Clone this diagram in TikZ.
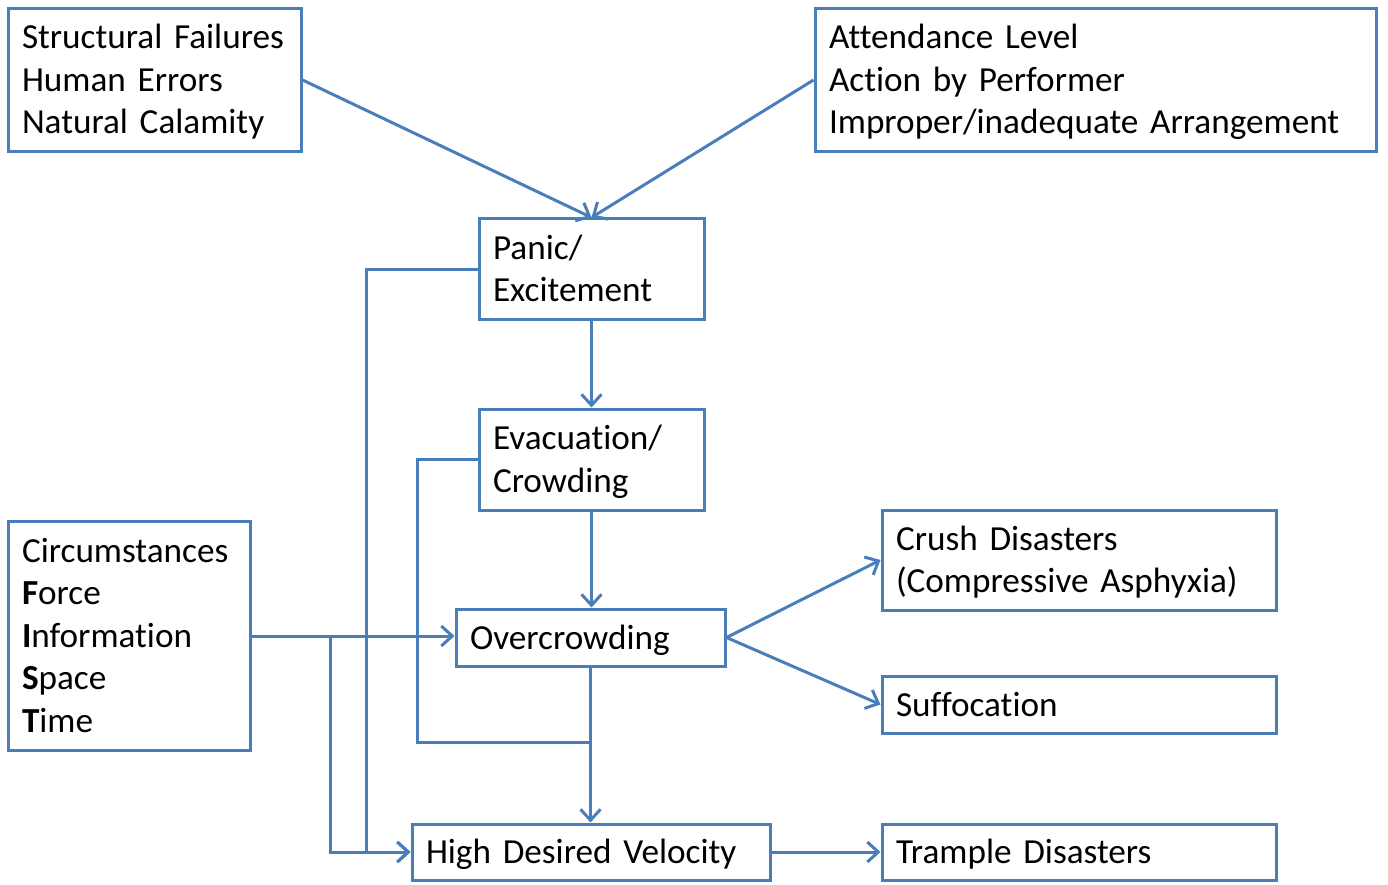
\documentclass[tikz,border=0pt]{standalone}
\usepackage{fontspec}
\setmainfont{Carlito}[Ligatures=NoCommon]
\usetikzlibrary{arrows.meta}
\definecolor{lineblue}{RGB}{74,126,187}
\newcommand\boxstrut{\rule[-9pt]{0pt}{41pt}}
\begin{document}
\begin{tikzpicture}[x=1pt,y=-1pt,
  box/.style={draw=lineblue, line width=3pt, inner xsep=14pt, inner ysep=0pt,
     align=left, font=\fontsize{35.2}{42.5}\selectfont, text=black,
     execute at begin node={\boxstrut}, execute at end node={\boxstrut}},
  arr/.style={draw=lineblue, line width=3pt, -{Straight Barb[length=11pt,width=20pt,line width=3pt]}},
  ln/.style={draw=lineblue, line width=3pt}]
\useasboundingbox (0,0) rectangle (1388,885);
\node[box, minimum width=293pt, minimum height=143pt, text width=265pt] (tl) at (154.5,80) {Structural Failures\\Human Errors\\Natural Calamity};
\node[box, minimum width=561pt, minimum height=143pt, text width=533pt] (tr) at (1095.5,80) {Attendance Level\\Action by Performer\\Improper/inadequate Arrangement};
\node[box, minimum width=225pt, minimum height=100pt, text width=197pt] (panic) at (591.5,269) {Panic/\\Excitement};
\node[box, minimum width=225pt, minimum height=101pt, text width=197pt] (evac) at (591.5,459.5) {Evacuation/\\Crowding};
\node[box, minimum width=269pt, minimum height=57pt, text width=241pt] (oc) at (590.5,637.5) {Overcrowding};
\node[box, minimum width=358pt, minimum height=56pt, text width=330pt] (hdv) at (591,852) {High Desired Velocity};
\node[box, minimum width=242pt, minimum height=229pt, text width=214pt] (circ) at (129,635.5) {Circumstances\\\textbf{F}orce\\\textbf{I}nformation\\\textbf{S}pace\\\textbf{T}ime};
\node[box, minimum width=394pt, minimum height=100pt, text width=366pt] (crush) at (1079,560) {Crush Disasters\\(Compressive Asphyxia)};
\node[box, minimum width=394pt, minimum height=57pt, text width=366pt] (suff) at (1079,704.5) {Suffocation};
\node[box, minimum width=394pt, minimum height=56pt, text width=366pt] (tramp) at (1079,852) {Trample Disasters};
\coordinate (j1) at (330,636);
\coordinate (j2) at (366,268);
\coordinate (j3) at (417,742);
\draw[arr] (tl.east) -- (panic.north);
\draw[arr] (tr.west) -- (panic.north);
\draw[arr] (panic.south) -- (evac.north);
\draw[arr] (evac.south) -- (evac.south |- oc.north);
\draw[arr] (oc.south) -- (oc.south |- hdv.north);
\draw[arr] (oc.east) -- (crush.west);
\draw[arr] (oc.east) -- (suff.west);
\draw[arr] (hdv.east) -- (tramp.west);
\draw[arr] (circ.east |- j1) -- (oc.west |- j1);
\draw[arr] (j1) |- (hdv.west);
\draw[arr] (panic.west) -| (j2 |- hdv.west) -- (hdv.west);
\draw[ln] (evac.west) -| (j3) -- (oc.south |- j3);
\end{tikzpicture}
\end{document}
